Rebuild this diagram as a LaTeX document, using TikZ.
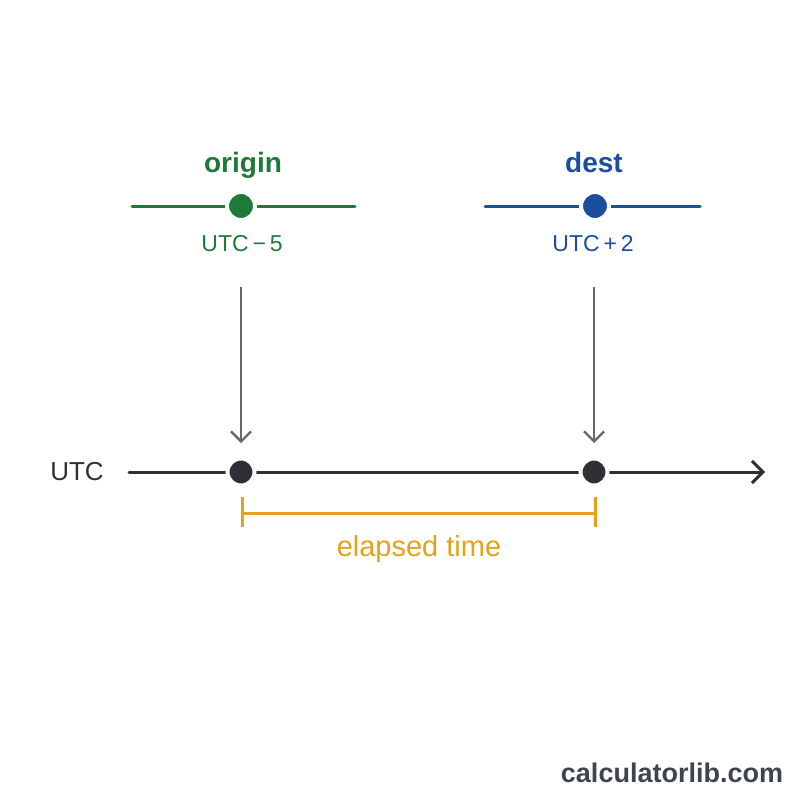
\documentclass[tikz,border=0pt]{standalone}
\usepackage{fontspec}
\setmainfont{Liberation Sans}
\usetikzlibrary{arrows.meta}
\definecolor{cgreen}{HTML}{1F7A3A}
\definecolor{cblue}{HTML}{1B4E9E}
\definecolor{cdark}{HTML}{2E3033}
\definecolor{cgray}{HTML}{66686C}
\definecolor{cyellow}{HTML}{E2A21C}
\definecolor{cfoot}{HTML}{3E4450}
\tikzset{
  tzline/.style={line width=3pt, line cap=round},
  tzdot/.style={circle, inner sep=0pt, minimum size=28pt, draw=white, line width=4pt},
  dropline/.style={cgray, line width=2.3pt, -{Straight Barb[length=10pt, width=20pt, line width=2.3pt]}},
  lbl/.style={inner sep=0pt, anchor=base},
}
\begin{document}
\begin{tikzpicture}[x=1pt,y=-1pt]
\useasboundingbox (0,0) rectangle (800,800);
\fill[white] (0,0) rectangle (800,800);
% origin
\node[lbl, text=cgreen, font=\fontsize{28}{32}\selectfont\bfseries] (olab) at (243,172) {origin};
\coordinate (ol) at (132,206);
\coordinate (or) at (355,206);
\draw[tzline, cgreen] (ol) -- (or);
\node[tzdot, fill=cgreen] (odot) at (241,206) {};
\node[lbl, text=cgreen, font=\fontsize{23}{28}\selectfont] (outc) at (242,251) {UTC\,−\,5};
% dest
\node[lbl, text=cblue, font=\fontsize{28}{32}\selectfont\bfseries] (dlab) at (594,172) {dest};
\coordinate (dl) at (485,206);
\coordinate (dr) at (700,206);
\draw[tzline, cblue] (dl) -- (dr);
\node[tzdot, fill=cblue] (ddot) at (595,206) {};
\node[lbl, text=cblue, font=\fontsize{23}{28}\selectfont] (dutc) at (593,251) {UTC\,+\,2};
% axis
\node[lbl, text=cdark, font=\fontsize{26}{30}\selectfont] (utc) at (77,480) {UTC};
\coordinate (as) at (129,472);
\coordinate (ae) at (765,472);
\draw[tzline, cdark, -{Straight Barb[length=11pt, width=22pt, line width=3pt]}] (as) -- (ae);
\node[tzdot, fill=cdark, minimum size=27pt] (p1) at (241,472) {};
\node[tzdot, fill=cdark, minimum size=27pt] (p2) at (594,472) {};
% drop arrows
\coordinate (a1s) at (241,287);
\coordinate (a1e) at (241,443);
\coordinate (a2s) at (594,287);
\coordinate (a2e) at (594,443);
\draw[dropline] (a1s) -- (a1e);
\draw[dropline] (a2s) -- (a2e);
% elapsed bracket
\coordinate (b1t) at (242,497);
\coordinate (b1b) at (242,527);
\coordinate (b2t) at (595,497);
\coordinate (b2b) at (595,527);
\coordinate (b1m) at (242,513);
\coordinate (b2m) at (595,513);
\draw[cyellow, line width=3pt] (b1t) -- (b1b);
\draw[cyellow, line width=3pt] (b2t) -- (b2b);
\draw[cyellow, line width=3pt] (b1m) -- (b2m);
\node[lbl, text=cyellow, font=\fontsize{29}{33}\selectfont] (elab) at (419,556) {elapsed time};
% footer
\node[lbl, text=cfoot, font=\fontsize{27}{31}\selectfont\bfseries] (foot) at (672,782) {calculatorlib.com};
\end{tikzpicture}
\end{document}
